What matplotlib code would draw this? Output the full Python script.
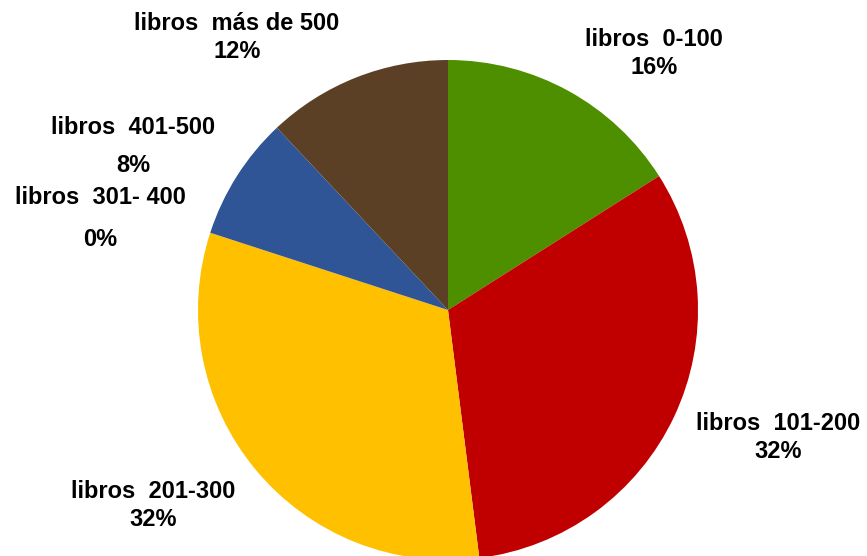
import matplotlib
matplotlib.use("Agg")
import matplotlib.pyplot as plt

categories = ["libros  0-100", "libros  101-200", "libros  201-300",
              "libros  301- 400", "libros  401-500", "libros  más de 500"]
values = [16, 32, 32, 0, 8, 12]
colors = ["#4E8F00", "#C00000", "#FFC000", "#A5A5A5", "#2F5597", "#5C4026"]

# label anchor positions (pixel coords, y down) for name and percent lines
name_pos = [(654, 40), (778, 424), (153, 491), (100, 198), (133, 127), (237, 24)]
pct_pos = [(654, 68), (778, 452), (153, 519), (100, 240), (133, 166), (237, 52)]

W, H = 867, 556
fig = plt.figure(figsize=(W / 100, H / 100), dpi=100)
ax = fig.add_axes([0, 0, 1, 1])
ax.pie(values, colors=colors, startangle=90, counterclock=False,
       center=(448, H - 310), radius=250, frame=True,
       wedgeprops=dict(linewidth=0))
ax.set_xlim(0, W)
ax.set_ylim(0, H)
ax.axis("off")

font = dict(family="Liberation Sans", weight="bold", size=17, color="black",
            ha="center", va="center")
total = sum(values)
for name, v, (nx, ny), (px, py) in zip(categories, values, name_pos, pct_pos):
    ax.text(nx, H - ny, name, **font)
    ax.text(px, H - py, f"{round(100 * v / total)}%", **font)

fig.savefig("out.png", dpi=100)
